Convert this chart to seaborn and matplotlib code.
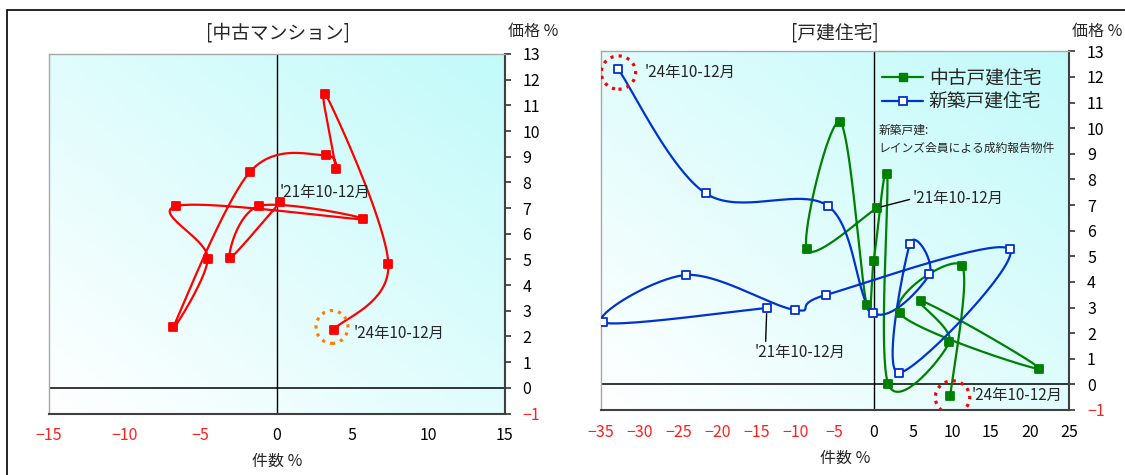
import numpy as np
import pandas as pd
import seaborn as sns
import matplotlib.pyplot as plt
from matplotlib.patches import Ellipse, Rectangle
from matplotlib.lines import Line2D

# 中古マンション  '21年10-12月 -> '24年10-12月
mansion_count = [0.26, -3.05, -1.15, 5.67, -6.59, -4.52, -6.80, -1.73, 3.28, 3.89, 3.21, 7.36, 3.75]
mansion_price = [7.24, 5.06, 7.08, 6.56, 7.08, 5.03, 2.35, 8.42, 9.05, 8.52, 11.46, 4.81, 2.27]

# 中古戸建住宅
used_house_count = [0.42, -8.58, -4.29, -0.92, 0.0, 1.71, 1.85, 9.69, 6.09, 21.2, 3.32, 11.3, 9.78]
used_house_price = [6.89, 5.27, 10.23, 3.11, 4.83, 8.22, 0.01, 1.66, 3.26, 0.61, 2.77, 4.62, -0.46]

# 新築戸建住宅
new_house_count = [-13.7, -34.7, -24.0, -10.15, -6.14, 17.4, 3.18, 4.61, 7.11, -0.09, -5.86, -21.5, -32.7]
new_house_price = [2.98, 2.42, 4.27, 2.91, 3.49, 5.27, 0.45, 5.48, 4.29, 2.80, 6.96, 7.45, 12.29]

first_label = "'21年10-12月"
last_label = "'24年10-12月"

sns.set_theme(style='white')
plt.rcParams['font.family'] = ['Noto Sans CJK JP', 'DejaVu Sans']

RED = '#FF0000'
GREEN = '#008000'
BLUE = '#0033CC'


def smooth(xs, ys, xpx, ypx, n=40):
    # excel-like smoothed line (bezier through every point), computed in pixel space
    p = np.column_stack([np.asarray(xs) * xpx, np.asarray(ys) * ypx])
    ext = np.vstack([p[0], p, p[-1]])
    out = []
    t = np.linspace(0, 1, n)[:, None]
    for i in range(len(p) - 1):
        p0, p1, p2, p3 = ext[i], ext[i + 1], ext[i + 2], ext[i + 3]
        c1 = p1 + (p2 - p0) / 6
        c2 = p2 - (p3 - p1) / 6
        seg = (1 - t) ** 3 * p1 + 3 * (1 - t) ** 2 * t * c1 + 3 * (1 - t) * t ** 2 * c2 + t ** 3 * p2
        out.append(seg if i == 0 else seg[1:])
    out = np.vstack(out)
    return pd.DataFrame({'x': out[:, 0] / xpx, 'y': out[:, 1] / ypx})


def style_axes(ax, xlim, xstep):
    ax.set_xlim(*xlim)
    ax.set_ylim(-1, 13)
    grad = np.add.outer(np.linspace(1, 0, 100), np.linspace(0, 1, 100)) / 2
    c0 = np.array([1.0, 1.0, 1.0])
    c1 = np.array([0.76, 0.98, 0.98])
    img = c0 + (c1 - c0) * grad[..., None]
    ax.imshow(img, extent=[xlim[0], xlim[1], -1, 13], aspect='auto', zorder=0)
    ax.axhline(0, color='black', lw=1.1, zorder=1)
    ax.axvline(0, color='black', lw=1.0, zorder=1)
    ax.yaxis.tick_right()
    ax.set_yticks(range(-1, 14))
    ax.set_xticks(range(xlim[0], xlim[1] + 1, xstep))
    ax.tick_params(axis='both', direction='out', length=4, width=1.2, colors='#333333',
                   labelsize=11.5)
    ax.tick_params(axis='y', pad=9)
    ax.tick_params(axis='x', pad=6)
    ax.set_xticklabels([str(int(v)).replace('-', '−') for v in ax.get_xticks()])
    for lab, v in zip(ax.get_xticklabels(), ax.get_xticks()):
        lab.set_color('#FF2020' if v < 0 else 'black')
    ax.set_yticklabels([str(int(v)).replace('-', '−') for v in ax.get_yticks()])
    for lab, v in zip(ax.get_yticklabels(), ax.get_yticks()):
        lab.set_color('#FF2020' if v < 0 else 'black')
    for side in ['left', 'top']:
        ax.spines[side].set_color('#A8A8A8')
        ax.spines[side].set_linewidth(1.0)
    for side in ['right', 'bottom']:
        ax.spines[side].set_color('#404040')
        ax.spines[side].set_linewidth(1.5)


def draw_series(ax, xs, ys, color, xpx, ypx, face):
    curve = smooth(xs, ys, xpx, ypx)
    sns.lineplot(data=curve, x='x', y='y', sort=False, estimator=None, color=color,
                 lw=1.6, ax=ax, zorder=3)
    pts = pd.DataFrame({'x': xs, 'y': ys})
    sns.scatterplot(data=pts, x='x', y='y', marker='s', s=34, color=face, edgecolor=color,
                    linewidth=1.3, ax=ax, zorder=4)
    ax.set_xlabel('')
    ax.set_ylabel('')


fig = plt.figure(figsize=(11.25, 4.75), dpi=100)
fig.add_artist(Rectangle((7 / 1125, -0.2), 1.2, 1.2 - 10 / 475, transform=fig.transFigure,
                         fill=False, lw=1.2, color='black'))

ax1 = fig.add_axes([48.5 / 1125, 1 - 413.5 / 475, 456 / 1125, 359.5 / 475])
ax2 = fig.add_axes([600.5 / 1125, 1 - 410 / 475, 468.5 / 1125, 358.7 / 475])

# ---- 中古マンション
style_axes(ax1, (-15, 15), 5)
draw_series(ax1, mansion_count, mansion_price, RED, 15.2, 25.7, RED)
ax1.text(mansion_count[0] - 0.05, mansion_price[0] + 0.38, first_label, fontsize=11,
         ha='left', va='center', zorder=5)
ax1.text(mansion_count[-1] + 1.3, mansion_price[-1] - 0.17, last_label, fontsize=11,
         ha='left', va='center', zorder=5)
ax1.add_patch(Ellipse((mansion_count[-1] - 0.1, mansion_price[-1] + 0.1), 2.1, 1.28, fill=False,
                      ec='#FF8000', lw=2.3, ls=(0, (1, 1.6)), zorder=5))

# ---- 戸建住宅
style_axes(ax2, (-35, 25), 5)
draw_series(ax2, used_house_count, used_house_price, GREEN, 7.8, 25.6, GREEN)
draw_series(ax2, new_house_count, new_house_price, BLUE, 7.8, 25.6, 'white')

ax2.annotate(first_label, xy=(used_house_count[0], used_house_price[0]), xytext=(5.0, 7.25),
             fontsize=11, ha='left', va='center', zorder=5,
             arrowprops=dict(arrowstyle='-', color='black', lw=1.0, shrinkA=0, shrinkB=3,
                             relpos=(0.0, 0.5)))
# leader for the 新築 start point, straight down to its label
ax2.annotate('', xy=(new_house_count[0], new_house_price[0]),
             xytext=(new_house_count[0] - 0.15, new_house_price[0] - 1.3), zorder=5,
             arrowprops=dict(arrowstyle='-', color='black', lw=1.0, shrinkA=0, shrinkB=4))
ax2.text(new_house_count[0] - 1.6, new_house_price[0] - 1.75, first_label, fontsize=11,
         ha='left', va='center', zorder=5)
ax2.text(new_house_count[-1] + 3.3, new_house_price[-1] - 0.1, last_label, fontsize=11,
         ha='left', va='center', zorder=5)
ax2.text(used_house_count[-1] + 2.8, used_house_price[-1] + 0.04, last_label, fontsize=11,
         ha='left', va='center', zorder=5)
ax2.add_patch(Ellipse((new_house_count[-1], new_house_price[-1] - 0.12), 4.4, 1.3, fill=False,
                      ec=RED, lw=2.3, ls=(0, (1, 1.6)), zorder=5))
ax2.add_patch(Ellipse((used_house_count[-1] + 0.3, used_house_price[-1] - 0.05), 4.4, 1.3, fill=False,
                      ec=RED, lw=2.3, ls=(0, (1, 1.6)), zorder=5))

handles = [Line2D([], [], color=GREEN, lw=1.6, marker='s', ms=6, mfc=GREEN, mec=GREEN),
           Line2D([], [], color=BLUE, lw=1.6, marker='s', ms=6, mfc='white', mec=BLUE, mew=1.3)]
ax2.legend(handles, ['中古戸建住宅', '新築戸建住宅'], loc='upper left', bbox_to_anchor=(0.585, 0.975),
           frameon=False, fontsize=13.5, handlelength=2.2, handletextpad=0.3, labelspacing=0.15,
           borderaxespad=0)
ax2.text(0.593, 0.78, '新築戸建:', transform=ax2.transAxes, fontsize=8.5, ha='left', va='center')
ax2.text(0.593, 0.73, 'レインズ会員による成約報告物件', transform=ax2.transAxes, fontsize=8.5,
         ha='left', va='center')

# titles and axis captions
fig.text(278 / 1125, 1 - 33 / 475, '[中古マンション]', fontsize=13.5, ha='center', va='center')
fig.text(835 / 1125, 1 - 33 / 475, '[戸建住宅]', fontsize=13.5, ha='center', va='center')
fig.text(508 / 1125, 1 - 31 / 475, '価格 %', fontsize=11.5, ha='left', va='center')
fig.text(1072 / 1125, 1 - 31 / 475, '価格 %', fontsize=11.5, ha='left', va='center')
fig.text(277 / 1125, 1 - 461 / 475, '件数 %', fontsize=11.5, ha='center', va='center')
fig.text(845 / 1125, 1 - 458 / 475, '件数 %', fontsize=11.5, ha='center', va='center')

fig.savefig('out.png', dpi=100)
